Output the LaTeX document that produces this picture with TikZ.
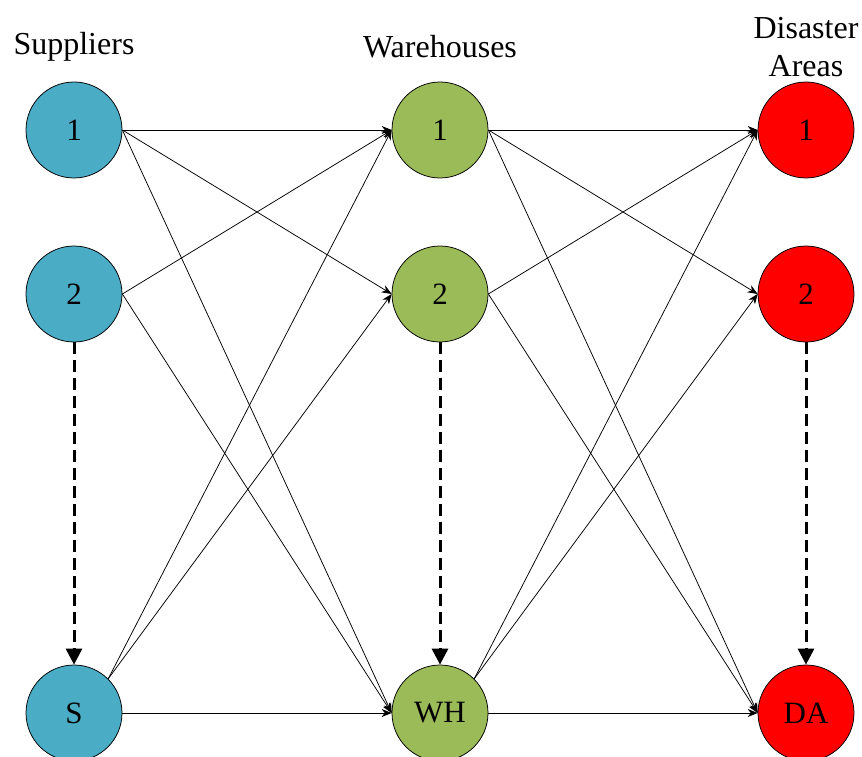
\documentclass[tikz,border=0pt]{standalone}
\usepackage{fontspec}
\setmainfont{Liberation Serif}
\usetikzlibrary{arrows.meta}
\definecolor{supblue}{HTML}{4BACC6}
\definecolor{whgreen}{HTML}{9BBB59}
\definecolor{dared}{HTML}{FF0000}

\begin{document}
\begin{tikzpicture}[x=1pt,y=1pt,yscale=-1,
    site/.style={circle,draw=black,line width=0.75,minimum size=96,inner sep=0pt,font=\fontsize{31}{36}\selectfont},
    title/.style={align=center,font=\fontsize{32}{38}\selectfont},
    flow/.style={-{Stealth[length=10,width=8]},line width=0.75},
    lead/.style={-{Triangle[length=16,width=16]},line width=3,dash pattern=on 12 off 6}]
        \useasboundingbox (0,0) rectangle (862,757);

        % Column titles
        \node (ttlS) at (74,47) [title]{Suppliers};
        \node (ttlW) at (440,47) [title]{Warehouses};
        \node (ttlD) at (806,47) [title]{Disaster\\Areas};

        % Suppliers
        \node (s1) at (74,130) [site,fill=supblue]{1};
        \node (s2) at (74,294) [site,fill=supblue]{2};
        \node (sS) at (74,713) [site,fill=supblue]{S};
        % Warehouses
        \node (w1) at (440,130) [site,fill=whgreen]{1};
        \node (w2) at (440,294) [site,fill=whgreen]{2};
        \node (wH) at (440,713) [site,fill=whgreen]{WH};
        % Disaster areas
        \node (d1) at (806,130) [site,fill=dared]{1};
        \node (d2) at (806,294) [site,fill=dared]{2};
        \node (dA) at (806,713) [site,fill=dared]{DA};

        % Suppliers -> warehouses
        \draw [flow] (s1.east) -- (w1.west);
        \draw [flow] (s1.east) -- (w2.west);
        \draw [flow] (s1.east) -- (wH.west);
        \draw [flow] (s2.east) -- (w1.west);
        \draw [flow] (s2.east) -- (wH.west);
        \draw [flow] (sS.45) -- (w1.west);
        \draw [flow] (sS.45) -- (w2.west);
        \draw [flow] (sS.east) -- (wH.west);

        % Warehouses -> disaster areas
        \draw [flow] (w1.east) -- (d1.west);
        \draw [flow] (w1.east) -- (d2.west);
        \draw [flow] (w1.east) -- (dA.west);
        \draw [flow] (w2.east) -- (d1.west);
        \draw [flow] (w2.east) -- (dA.west);
        \draw [flow] (wH.45) -- (d1.west);
        \draw [flow] (wH.45) -- (d2.west);
        \draw [flow] (wH.east) -- (dA.west);

        % Dashed arrows
        \draw [lead] (s2.south) -- (sS.north);
        \draw [lead] (w2.south) -- (wH.north);
        \draw [lead] (d2.south) -- (dA.north);
    \end{tikzpicture}
\end{document}
